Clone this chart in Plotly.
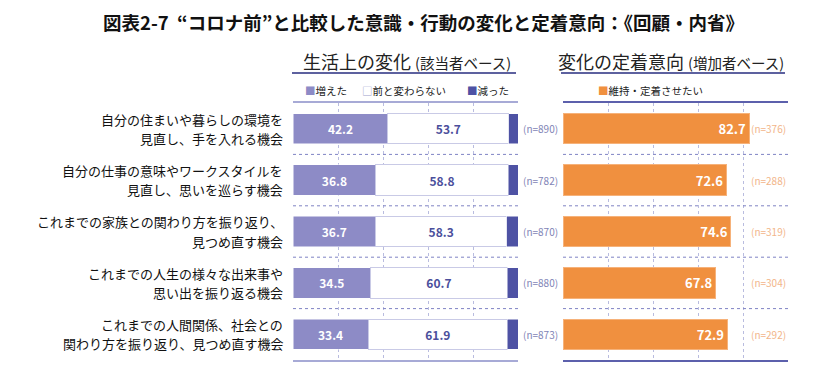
import plotly.graph_objects as go

# ---- data ----
categories = [
    "自分の住まいや暮らしの環境を<br>見直し、手を入れる機会",
    "自分の仕事の意味やワークスタイルを<br>見直し、思いを巡らす機会",
    "これまでの家族との関わり方を振り返り、<br>見つめ直す機会",
    "これまでの人生の様々な出来事や<br>思い出を振り返る機会",
    "これまでの人間関係、社会との<br>関わり方を振り返り、見つめ直す機会",
]
increased = [42.2, 36.8, 36.7, 34.5, 33.4]
unchanged = [53.7, 58.8, 58.3, 60.7, 61.9]
decreased = [round(100 - a - b, 1) for a, b in zip(increased, unchanged)]
n_change = [890, 782, 870, 880, 873]
retain = [82.7, 72.6, 74.6, 67.8, 72.9]
n_retain = [376, 288, 319, 304, 292]
row_ids = [f"r{i}" for i in range(len(categories))]

W, H = 840, 371
FONT = "Noto Sans CJK JP"
C_INC = "#8D8BC6"
C_DEC = "#4E52A4"
C_MID_TXT = "#4B4F9C"
C_ORANGE = "#F0903F"
C_GRID = "#B9BCDF"

def px_x(p):
    return p / W

def px_y(p):
    return 1 - p / H

fig = go.Figure()

fig.add_trace(go.Bar(
    y=row_ids, x=increased, orientation="h", name="増えた",
    marker=dict(color=C_INC, line=dict(color="white", width=0.5)),
    text=[f"{v:.1f}" for v in increased], textposition="inside",
    insidetextanchor="middle",
    textfont=dict(color="white", size=12, family=FONT, weight="bold"),
    xaxis="x", yaxis="y", showlegend=False,
))
fig.add_trace(go.Bar(
    y=row_ids, x=unchanged, orientation="h", name="前と変わらない",
    marker=dict(color="white", line=dict(color="#C9CAE6", width=1)),
    text=[f"{v:.1f}" for v in unchanged], textposition="inside",
    insidetextanchor="middle",
    textfont=dict(color=C_MID_TXT, size=12, family=FONT, weight="bold"),
    xaxis="x", yaxis="y", showlegend=False,
))
fig.add_trace(go.Bar(
    y=row_ids, x=decreased, orientation="h", name="減った",
    marker=dict(color=C_DEC, line=dict(color="white", width=0.5)),
    textposition="none",
    xaxis="x", yaxis="y", showlegend=False,
))
fig.add_trace(go.Bar(
    y=row_ids, x=retain, orientation="h", name="維持・定着させたい",
    marker=dict(color=C_ORANGE, line=dict(color="#F6B27A", width=1)),
    text=[f"{v:.1f}" for v in retain], textposition="inside",
    insidetextanchor="end",
    textfont=dict(color="white", size=13, family=FONT, weight="bold"),
    xaxis="x2", yaxis="y2", showlegend=False,
))

y_dom = [px_y(360), px_y(103)]
axis_common = dict(range=[0, 100], tickvals=[20, 40, 60, 80], showticklabels=False,
                   showgrid=True, gridcolor=C_GRID, griddash="dot", gridwidth=1,
                   zeroline=False, fixedrange=True)
fig.update_layout(
    width=W, height=H, margin=dict(l=0, r=0, t=0, b=0),
    paper_bgcolor="white", plot_bgcolor="white",
    barmode="stack", bargap=0.41,
    font=dict(family=FONT, color="#222222"),
    xaxis=dict(domain=[px_x(293), px_x(518)], anchor="y",
               showline=True, linecolor="#A7AAD6", linewidth=1.5, mirror=True, **axis_common),
    yaxis=dict(domain=y_dom, anchor="x", type="category", categoryarray=row_ids,
               range=[4.5, -0.5], showticklabels=False, showgrid=False, zeroline=False,
               fixedrange=True),
    xaxis2=dict(domain=[px_x(563), px_x(788)], anchor="y2",
                showline=True, linecolor="#5C60AC", linewidth=1.5, mirror=True, **axis_common),
    yaxis2=dict(domain=y_dom, anchor="x2", type="category", categoryarray=row_ids,
                range=[4.5, -0.5], showticklabels=False, showgrid=False, zeroline=False,
                fixedrange=True),
)

shapes = []
for k in range(len(row_ids) - 1):
    for xr, yr in (("x", "y"), ("x2", "y2")):
        shapes.append(dict(type="line", xref=f"{xr} domain", yref=yr,
                           x0=0, x1=1, y0=k + 0.5, y1=k + 0.5,
                           line=dict(color="#7F83C4", width=1, dash="dot")))
shapes.append(dict(type="line", xref="paper", yref="paper",
                   x0=px_x(292), x1=px_x(516), y0=px_y(73), y1=px_y(73),
                   line=dict(color="#5D619F", width=2)))
shapes.append(dict(type="line", xref="paper", yref="paper",
                   x0=px_x(561), x1=px_x(785), y0=px_y(73), y1=px_y(73),
                   line=dict(color="#5D619F", width=2)))
fig.update_layout(shapes=shapes)

ann = []
ann.append(dict(text="図表2-7  “コロナ前”と比較した意識・行動の変化と定着意向：《回顧・内省》",
                xref="paper", yref="paper", x=px_x(423), y=px_y(22),
                xanchor="center", yanchor="middle", showarrow=False,
                font=dict(size=18.5, family=FONT, color="#111111", weight="bold")))
ann.append(dict(text="生活上の変化 <span style='font-size:14.5px'>(該当者ベース)</span>",
                xref="paper", yref="paper", x=px_x(407), y=px_y(61),
                xanchor="center", yanchor="middle", showarrow=False,
                font=dict(size=18, family=FONT, color="#222222")))
ann.append(dict(text="変化の定着意向 <span style='font-size:14.5px'>(増加者ベース)</span>",
                xref="paper", yref="paper", x=px_x(671), y=px_y(61),
                xanchor="center", yanchor="middle", showarrow=False,
                font=dict(size=18, family=FONT, color="#222222")))
leg_font = dict(size=10.5, family=FONT, color="#222222")
ann.append(dict(text=f"<span style='color:{C_INC}'>■</span>増えた", xref="paper", yref="paper",
                x=px_x(303), y=px_y(90), xanchor="left", yanchor="middle",
                showarrow=False, font=leg_font))
ann.append(dict(text="<span style='color:#9A9CCB'>□</span>前と変わらない", xref="paper", yref="paper",
                x=px_x(360), y=px_y(90), xanchor="left", yanchor="middle",
                showarrow=False, font=leg_font))
ann.append(dict(text=f"<span style='color:{C_DEC}'>■</span>減った", xref="paper", yref="paper",
                x=px_x(465), y=px_y(90), xanchor="left", yanchor="middle",
                showarrow=False, font=leg_font))
ann.append(dict(text=f"<span style='color:{C_ORANGE}'>■</span>維持・定着させたい", xref="paper", yref="paper",
                x=px_x(596), y=px_y(90), xanchor="left", yanchor="middle",
                showarrow=False, font=leg_font))
# category labels, one annotation per line
for rid, cat in zip(row_ids, categories):
    lines = cat.split("<br>")
    for line, shift in zip(lines, (9.6, -9.6)):
        ann.append(dict(text=line, xref="paper", yref="y", x=px_x(285), y=rid,
                        yshift=shift, xanchor="right", yanchor="middle", showarrow=False,
                        font=dict(size=13, family=FONT, color="#111111")))
for rid, n in zip(row_ids, n_change):
    ann.append(dict(text=f"(n={n})", xref="paper", yref="y", x=px_x(521), y=rid,
                    xanchor="left", yanchor="middle", showarrow=False,
                    font=dict(size=10, family=FONT, color="#7F84B6")))
for rid, n in zip(row_ids, n_retain):
    ann.append(dict(text=f"(n={n})", xref="x2", yref="y2", x=100, y=rid,
                    xanchor="right", yanchor="middle", showarrow=False,
                    font=dict(size=10, family=FONT, color="#F2B589")))
fig.update_layout(annotations=ann)

fig.write_html("out.html", config={"displayModeBar": False},
               post_script="document.body.style.margin='0';")
